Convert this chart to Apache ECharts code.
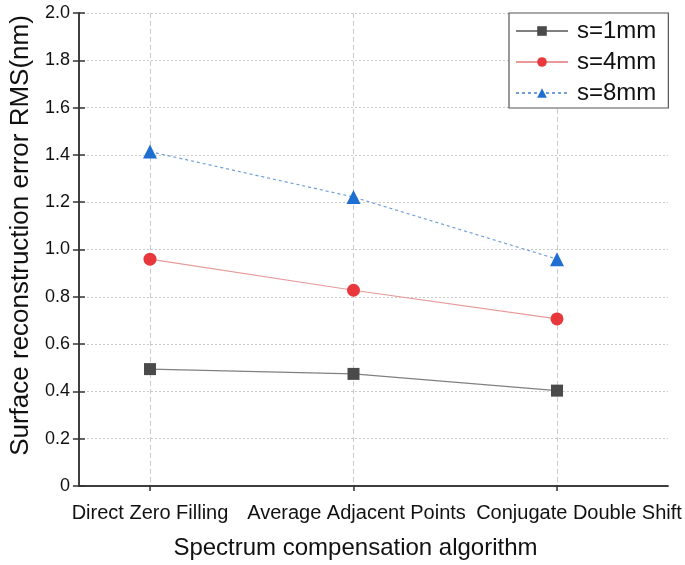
<!DOCTYPE html>
<html>
<head>
<meta charset="utf-8">
<script src="https://cdn.jsdelivr.net/npm/echarts@6/dist/echarts.min.js"></script>
<style>html,body{margin:0;padding:0;background:#fff}#c{width:685px;height:565px}</style>
</head>
<body>
<div id="c"></div>
<script>
const categories = ['Direct Zero Filling', 'Average Adjacent Points', 'Conjugate Double Shift'];
const s1mm = [0.51, 0.49, 0.42];
const s4mm = [0.97, 0.84, 0.72];
const s8mm = [1.42, 1.23, 0.97];
const seriesNames = ['s=1mm', 's=4mm', 's=8mm'];
const xTitle = 'Spectrum compensation algorithm';
const yTitle = 'Surface reconstruction error RMS(nm)';

const FONT = 'Liberation Sans';
const chart = echarts.init(document.getElementById('c'));
const frameColor = '#333';
const yAxisBase = {
  type: 'value', min: 0, max: 2, interval: 0.2, gridIndex: 0,
  axisLine: {show: true, lineStyle: {color: frameColor, width: 1.5}},
  axisTick: {show: true, inside: true, length: 6, lineStyle: {color: frameColor, width: 1.5}},
};
const catData = categories.map((c, i) => i === 2
  ? {value: c, textStyle: {padding: [0, 0, 0, 44]}}
  : (i === 1 ? {value: c, textStyle: {padding: [0, 0, 0, 6]}} : c));
chart.setOption({
  animation: false,
  textStyle: {fontFamily: FONT},
  grid: [
    {left: 72, right: 17, top: 13, bottom: 74},
    {left: 150, right: 128, top: 13, bottom: 74}
  ],
  legend: {
    orient: 'vertical', left: 509, top: 13,
    padding: [6, 12, 3, 6], itemGap: 7,
    itemWidth: 52, itemHeight: 12,
    backgroundColor: '#fff', borderColor: '#555', borderWidth: 1.2,
    textStyle: {fontFamily: FONT, fontSize: 24, color: '#111', padding: [0, 0, 0, 4]},
    data: seriesNames
  },
  xAxis: [
    {type: 'value', min: 0, max: 1, gridIndex: 0, position: 'bottom',
     axisLine: {show: true, lineStyle: {color: frameColor, width: 1.5}},
     axisTick: {show: false}, axisLabel: {show: false}, splitLine: {show: false},
     name: xTitle, nameLocation: 'middle', nameGap: 50,
     nameTextStyle: {fontFamily: FONT, fontSize: 24, color: '#111', padding: [0, 36, 0, 0]}},
    {type: 'value', min: 0, max: 1, gridIndex: 0, position: 'top',
     axisLine: {show: true, lineStyle: {color: frameColor, width: 1.5}},
     axisTick: {show: false}, axisLabel: {show: false}, splitLine: {show: false}},
    {type: 'category', gridIndex: 1, data: catData, boundaryGap: false,
     axisLine: {show: false},
     axisTick: {show: true, inside: true, length: 6, lineStyle: {color: frameColor, width: 1.5}},
     axisLabel: {fontFamily: FONT, fontSize: 20, color: '#111', margin: 12, interval: 0, hideOverlap: false},
     splitLine: {show: true, lineStyle: {color: '#c8c8c8', type: [5, 3], width: 1}}}
  ],
  yAxis: [
    Object.assign({}, yAxisBase, {
      position: 'left',
      axisLabel: {fontFamily: FONT, fontSize: 18, color: '#111', margin: 9,
        formatter: v => v === 0 ? '0' : v.toFixed(1)},
      splitLine: {show: true, lineStyle: {color: '#c8c8c8', type: [2, 2], width: 1}},
      name: yTitle, nameLocation: 'middle', nameGap: 44,
      nameTextStyle: {fontFamily: FONT, fontSize: 26, color: '#111', padding: [0, 0, 0, 28]}
    }),
    Object.assign({}, yAxisBase, {
      position: 'right', axisLabel: {show: false}, splitLine: {show: false}
    }),
    {type: 'value', min: 0, max: 2, gridIndex: 1, show: false}
  ],
  series: [
    {name: seriesNames[0], type: 'line', xAxisIndex: 2, yAxisIndex: 2, data: s1mm,
     symbol: 'rect', symbolSize: 12,
     itemStyle: {color: '#4a4a4a'}, lineStyle: {color: '#808080', width: 1.2}},
    {name: seriesNames[1], type: 'line', xAxisIndex: 2, yAxisIndex: 2, data: s4mm,
     symbol: 'circle', symbolSize: 13,
     itemStyle: {color: '#e8383b'}, lineStyle: {color: '#e89a9a', width: 1.2}},
    {name: seriesNames[2], type: 'line', xAxisIndex: 2, yAxisIndex: 2, data: s8mm,
     symbol: 'triangle', symbolSize: 14,
     itemStyle: {color: '#1f6fd1'}, lineStyle: {color: '#6e9fd8', width: 1.2, type: [3, 3]}}
  ]
});
</script>
</body>
</html>
